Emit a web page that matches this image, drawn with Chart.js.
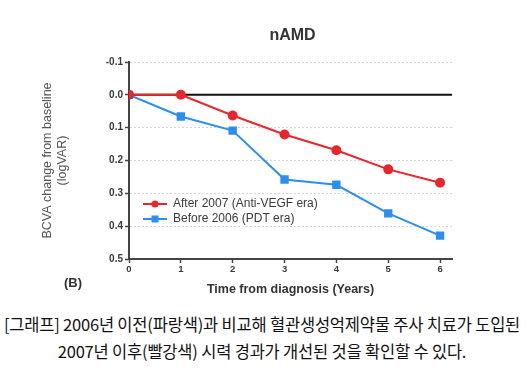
<!DOCTYPE html>
<html><head><meta charset="utf-8">
<script src="https://cdn.jsdelivr.net/npm/chart.js@4/dist/chart.umd.min.js"></script>
<style>
html,body{margin:0;padding:0;background:#fff;width:532px;height:382px;overflow:hidden}
#wrap{position:absolute;left:0;top:0;width:532px;height:300px}
#cap{position:absolute;left:-4px;top:311px;width:532px;text-align:center;font-family:"Noto Sans CJK KR",sans-serif;font-size:16.5px;line-height:27px;color:#111;white-space:nowrap;letter-spacing:-0.2px}
</style></head><body>
<div id="wrap"><canvas id="c" width="532" height="300"></canvas></div>
<div id="cap">[그래프] 2006년 이전(파랑색)과 비교해 혈관생성억제약물 주사 치료가 도입된<br>2007년 이후(빨강색) 시력 경과가 개선된 것을 확인할 수 있다.</div>
<script>
const chartTitle = "nAMD";
const years = [0, 1, 2, 3, 4, 5, 6];
const after2007 = [0.0, 0.0, 0.063, 0.121, 0.169, 0.227, 0.268];
const before2006 = [0.0, 0.066, 0.109, 0.258, 0.274, 0.361, 0.429];
const seriesLabels = ["After 2007 (Anti-VEGF era)", "Before 2006 (PDT era)"];
const yTicks = [-0.1, 0.0, 0.1, 0.2, 0.3, 0.4, 0.5];
const xTicks = [0, 1, 2, 3, 4, 5, 6];

const RED = '#e8262b', BLUE = '#2b8ef0', TXT = '#3a3a3a';
const FAM = '"Liberation Sans", Arial, sans-serif';

const extras = {
  id: 'extras',
  beforeDatasetsDraw(chart) {
    const {ctx, scales: {x, y}, chartArea} = chart;
    const py = y.getPixelForValue(0);
    ctx.save();
    ctx.strokeStyle = '#111';
    ctx.lineWidth = 2;
    ctx.beginPath();
    ctx.moveTo(chartArea.left, py);
    ctx.lineTo(chartArea.right, py);
    ctx.stroke();
    ctx.restore();
  },
  afterDraw(chart) {
    const {ctx, chartArea} = chart;
    ctx.save();
    // title centred over the plot area
    ctx.fillStyle = '#333';
    ctx.font = 'bold 16px ' + FAM;
    ctx.textAlign = 'center';
    ctx.textBaseline = 'middle';
    ctx.fillText(chartTitle, (chartArea.left + chartArea.right) / 2 + 2, 36);
    // legend
    const ds = chart.data.datasets;
    const lx = 143, ly = [204, 219];
    ds.forEach((d, i) => {
      ctx.strokeStyle = d.borderColor;
      ctx.lineWidth = 2;
      ctx.beginPath();
      ctx.moveTo(lx, ly[i]);
      ctx.lineTo(lx + 24, ly[i]);
      ctx.stroke();
      ctx.fillStyle = d.backgroundColor;
      if (d.pointStyle === 'rect') {
        ctx.fillRect(lx + 12 - 3.5, ly[i] - 3.5, 7, 7);
      } else {
        ctx.beginPath();
        ctx.arc(lx + 12, ly[i], 3.5, 0, Math.PI * 2);
        ctx.fill();
      }
      ctx.fillStyle = TXT;
      ctx.font = '12px ' + FAM;
      ctx.textBaseline = 'middle';
      ctx.textAlign = 'left';
      ctx.fillText(d.label, lx + 30, ly[i]);
    });
    ctx.fillStyle = '#333';
    ctx.font = 'bold 13px ' + FAM;
    ctx.textAlign = 'left';
    ctx.textBaseline = 'middle';
    ctx.fillText('(B)', 64, 283);
    ctx.restore();
  }
};

new Chart(document.getElementById('c'), {
  type: 'line',
  data: {
    datasets: [
      {label: seriesLabels[0], data: years.map((v, i) => ({x: v, y: after2007[i]})),
       borderColor: RED, backgroundColor: RED, borderWidth: 2, pointStyle: 'circle',
       pointRadius: 4, pointHoverRadius: 4, tension: 0},
      {label: seriesLabels[1], data: years.map((v, i) => ({x: v, y: before2006[i]})),
       borderColor: BLUE, backgroundColor: BLUE, borderWidth: 2, pointStyle: 'rect',
       pointRadius: 4.5, pointHoverRadius: 4.5, tension: 0}
    ]
  },
  options: {
    responsive: false,
    animation: false,
    events: [],
    layout: {padding: {left: 40, right: 80, top: 62, bottom: 0}},
    plugins: {
      legend: {display: false},
      tooltip: {enabled: false},
      title: {display: false}
    },
    scales: {
      x: {
        type: 'linear', min: 0, max: 6.23,
        afterBuildTicks(s) { s.ticks = xTicks.map(v => ({value: v})); },
        afterFit(s) { s.height = 41; },
        ticks: {color: TXT, font: {family: FAM, size: 9.5, weight: 'bold'}, padding: 1},
        grid: {drawOnChartArea: false, drawTicks: true, tickLength: 4, tickColor: '#444', tickWidth: 1.5},
        border: {display: true, color: '#444', width: 2},
        title: {display: true, text: 'Time from diagnosis (Years)', color: '#333',
          font: {family: FAM, size: 12.5, weight: 'bold'}, padding: {top: 2, bottom: 2.5}}
      },
      y: {
        type: 'linear', reverse: true, min: -0.1, max: 0.5,
        afterBuildTicks(s) { s.ticks = yTicks.map(v => ({value: v})); },
        afterFit(s) { s.width = 89; },
        ticks: {color: TXT, padding: 2, font: {family: FAM, size: 10, weight: 'bold'},
          callback: v => Number(v).toFixed(1)},
        grid: {drawOnChartArea: true, color: '#d4d4d4', lineWidth: 1, drawTicks: true, tickLength: 4,
          tickColor: '#444', tickWidth: 1.5, tickBorderDash: []},
        border: {display: true, color: '#444', width: 2, dash: [2, 2]},
        title: {display: true, text: ['BCVA change from baseline', '(logVAR)'], color: '#555',
          font: {family: FAM, size: 12.5}, padding: 0}
      }
    }
  },
  plugins: [extras]
});
</script>
</body></html>
